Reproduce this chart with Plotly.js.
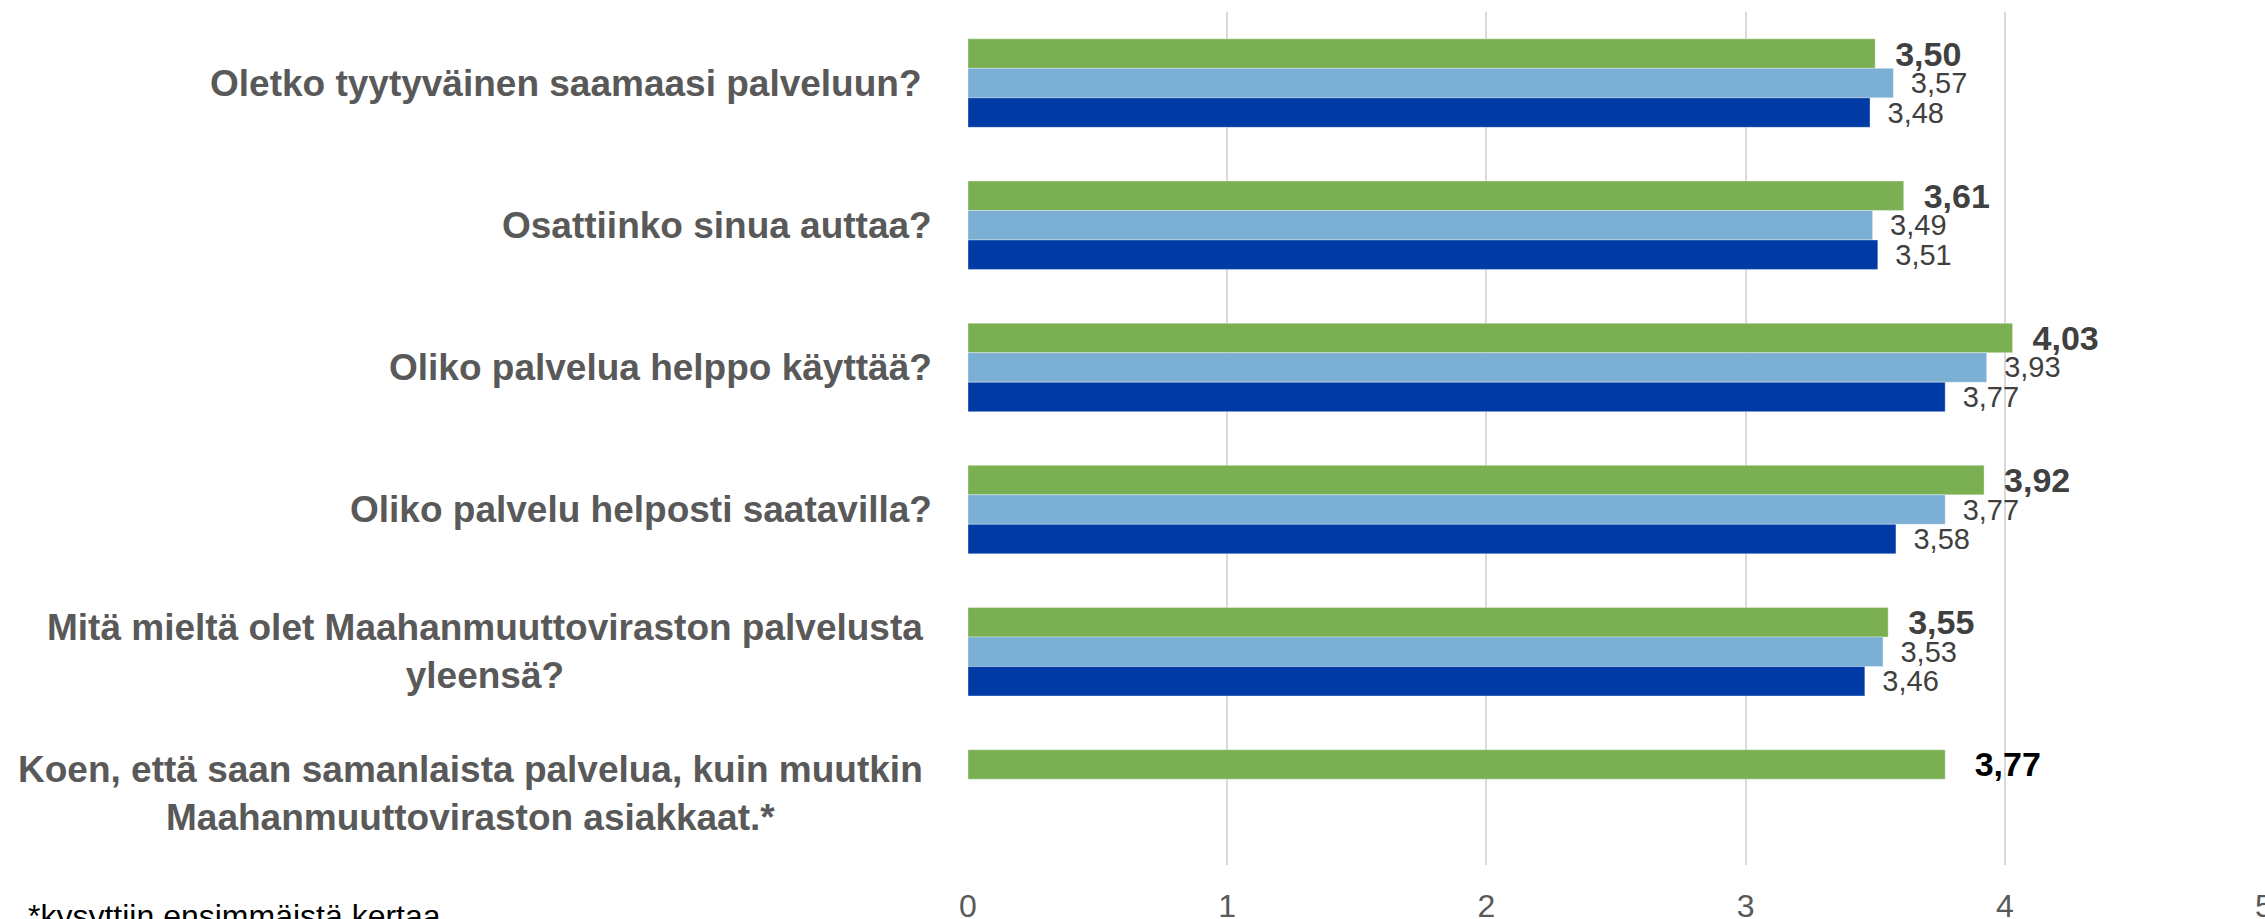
<!DOCTYPE html>
<html>
<head>
<meta charset="utf-8">
<script src="https://cdn.plot.ly/plotly-3.0.1.min.js"></script>
<style>
  html, body { margin: 0; padding: 0; background: #ffffff; }
  #chart { width: 2265px; height: 919px; }
</style>
</head>
<body>
<div id="chart"></div>
<script>
// ---- Data ----
const categories = [
  "Oletko tyytyväinen saamaasi palveluun?\u00a0",
  "Osattiinko sinua auttaa?",
  "Oliko palvelua helppo käyttää?",
  "Oliko palvelu helposti saatavilla?",
  "Mitä mieltä olet Maahanmuuttoviraston palvelusta<br>yleensä?",
  "Koen, että saan samanlaista palvelua, kuin muutkin<br>Maahanmuuttoviraston asiakkaat.*"
];
const seriesNames = ["Sarja 1", "Sarja 2", "Sarja 3"];
const valuesGreen = [3.50, 3.61, 4.03, 3.92, 3.55, 3.77];
const valuesLightBlue = [3.57, 3.49, 3.93, 3.77, 3.53, null];
const valuesDarkBlue = [3.48, 3.51, 3.77, 3.58, 3.46, null];
const xTickValues = [0, 1, 2, 3, 4, 5];
const xTickLabels = ["0", "1", "2", "3", "4", "5"];
const footnote = "*kysyttiin ensimmäistä kertaa";

// ---- Styles ----
const FONT = "Liberation Sans, Arial, sans-serif";
const lastIdx = valuesGreen.length - 1;
const greenLabelColors = valuesGreen.map((v, i) => i === lastIdx ? "#000000" : "#404040");
const greenTemplates = valuesGreen.map((v, i) => i === lastIdx ? "\u2002\u00a0%{x:.2f}" : "\u2002%{x:.2f}");

const common = {
  type: "bar",
  orientation: "h",
  y: categories,
  textposition: "outside",
  constraintext: "none",
  cliponaxis: false,
  hoverinfo: "x+name",
  showlegend: false
};

const traces = [
  Object.assign({}, common, {
    name: seriesNames[0],
    x: valuesGreen,
    marker: { color: "#7AB051", line: { color: "rgba(255,255,255,0.35)", width: 1 } },
    texttemplate: greenTemplates,
    textfont: { family: FONT, size: 34, weight: "bold", color: greenLabelColors }
  }),
  Object.assign({}, common, {
    name: seriesNames[1],
    x: valuesLightBlue,
    marker: { color: "#7BAFD4", line: { color: "rgba(255,255,255,0.35)", width: 1 } },
    texttemplate: "\u2002%{x:.2f}",
    textfont: { family: FONT, size: 29, color: "#404040" }
  }),
  Object.assign({}, common, {
    name: seriesNames[2],
    x: valuesDarkBlue,
    marker: { color: "#003BA5", line: { color: "rgba(255,255,255,0.35)", width: 1 } },
    texttemplate: "\u2002%{x:.2f}",
    textfont: { family: FONT, size: 29, color: "#404040" }
  })
];

const annotations = categories.map(c => ({
  xref: "paper", yref: "y",
  x: 0, y: c,
  xanchor: "right", yanchor: "middle",
  xshift: c.indexOf("<br>") >= 0 ? -43 : -34,
  align: "center",
  showarrow: false,
  text: c,
  font: { family: FONT, size: 37, weight: "bold", color: "#595959" }
}));
annotations.push({
  xref: "paper", yref: "paper",
  x: (26 - 968) / 1296, y: -0.036,
  xanchor: "left", yanchor: "top",
  showarrow: false,
  text: footnote,
  font: { family: FONT, size: 32, color: "#000000" }
});

const layout = {
  width: 2265,
  height: 919,
  margin: { l: 968, r: 1, t: 12, b: 54, pad: 0 },
  paper_bgcolor: "#ffffff",
  plot_bgcolor: "#ffffff",
  separators: ", ",
  barmode: "group",
  bargap: 0.378,
  bargroupgap: 0,
  showlegend: false,
  font: { family: FONT, color: "#595959" },
  xaxis: {
    range: [0, 5],
    tickvals: xTickValues,
    ticktext: xTickLabels,
    showgrid: true,
    gridcolor: "#D9D9D9",
    gridwidth: 2,
    zeroline: false,
    showline: false,
    ticks: "",
    ticklabelstandoff: 19,
    ticklabeloverflow: "allow",
    tickfont: { family: FONT, size: 32, color: "#595959" },
    fixedrange: true
  },
  yaxis: {
    autorange: "reversed",
    type: "category",
    showticklabels: false,
    showgrid: false,
    zeroline: false,
    showline: false,
    ticks: "",
    fixedrange: true
  },
  annotations: annotations
};

Plotly.newPlot("chart", traces, layout, { displayModeBar: false, staticPlot: true });
</script>
</body>
</html>
